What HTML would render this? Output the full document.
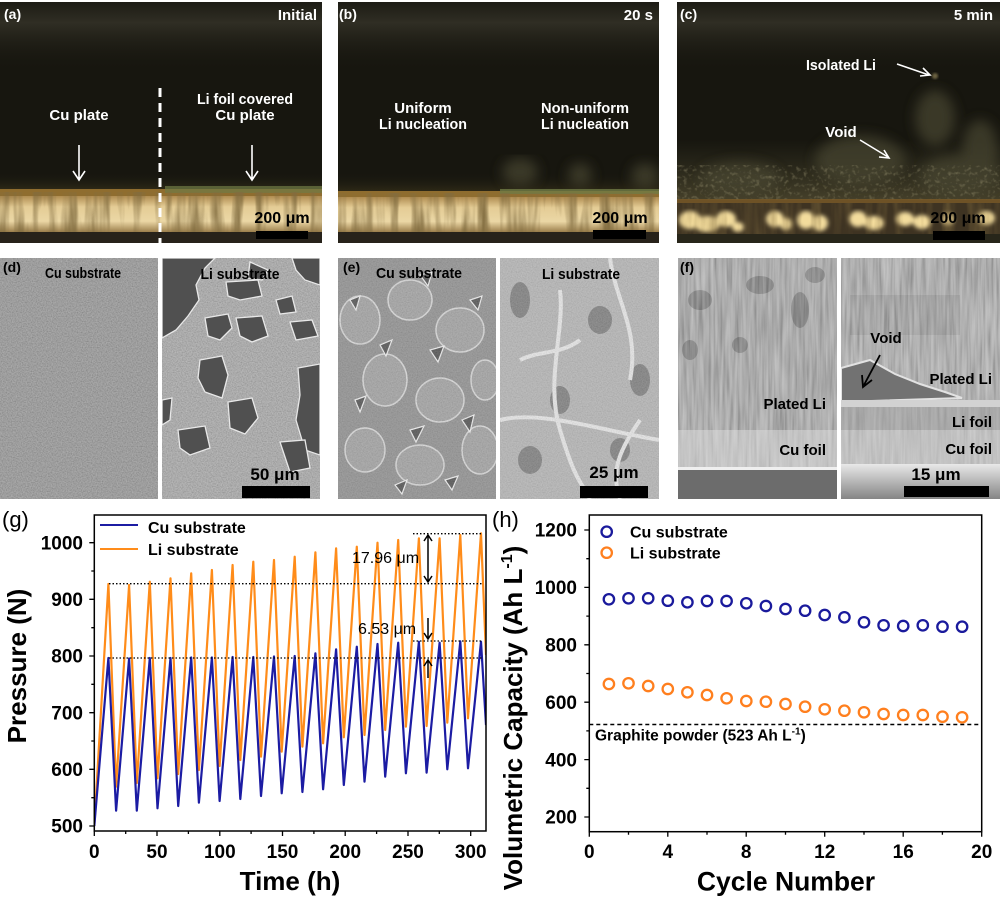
<!DOCTYPE html>
<html>
<head>
<meta charset="utf-8">
<style>
html,body{margin:0;padding:0;background:#fff;}
svg{display:block;}
text{font-family:"Liberation Sans",Arial,sans-serif;}
</style>
</head>
<body>
<svg width="1000" height="900" viewBox="0 0 1000 900" xmlns="http://www.w3.org/2000/svg">
<defs>
  <filter id="vstreak" x="0" y="0" width="1" height="1" filterUnits="objectBoundingBox">
    <feTurbulence type="fractalNoise" baseFrequency="0.09 0.01" numOctaves="3" seed="3"/>
    <feColorMatrix type="matrix" values="0 0 0 0 0.22  0 0 0 0 0.15  0 0 0 0 0.05  2.4 0 0 0 -1.0"/>
  </filter>
  <filter id="speck" x="0" y="0" width="1" height="1" filterUnits="objectBoundingBox">
    <feTurbulence type="fractalNoise" baseFrequency="0.25" numOctaves="2" seed="5"/>
    <feColorMatrix type="matrix" values="0 0 0 0 0.42  0 0 0 0 0.38  0 0 0 0 0.22  3 0 0 0 -1.55"/>
  </filter>
  <filter id="grain" x="0" y="0" width="1" height="1" filterUnits="objectBoundingBox">
    <feTurbulence type="fractalNoise" baseFrequency="0.8" numOctaves="1" seed="7"/>
    <feColorMatrix type="matrix" values="1 0 0 0 0  1 0 0 0 0  1 0 0 0 0  0 0 0 0 0.35"/>
  </filter>
  <filter id="vgrain" x="0" y="0" width="1" height="1" filterUnits="objectBoundingBox">
    <feTurbulence type="fractalNoise" baseFrequency="0.35 0.02" numOctaves="2" seed="11"/>
    <feColorMatrix type="matrix" values="1 0 0 0 0  1 0 0 0 0  1 0 0 0 0  0 0 0 0 0.4"/>
  </filter>
  <filter id="blur2"><feGaussianBlur stdDeviation="2"/></filter>
  <filter id="blur3"><feGaussianBlur stdDeviation="3"/></filter>
  <filter id="blur6"><feGaussianBlur stdDeviation="6"/></filter>
  <filter id="blur1"><feGaussianBlur stdDeviation="1"/></filter>
  <linearGradient id="topHaze" x1="0" y1="0" x2="0" y2="1">
    <stop offset="0" stop-color="#1d1c15"/>
    <stop offset="0.3" stop-color="#302e24"/>
    <stop offset="1" stop-color="#17160f" stop-opacity="0"/>
  </linearGradient>
  <linearGradient id="glow" x1="0" y1="0" x2="0" y2="1">
    <stop offset="0" stop-color="#17160f" stop-opacity="0"/>
    <stop offset="1" stop-color="#2f2a17"/>
  </linearGradient>
  <linearGradient id="strip" x1="0" y1="0" x2="0" y2="1">
    <stop offset="0" stop-color="#b08d52"/>
    <stop offset="0.3" stop-color="#e4cc95"/>
    <stop offset="0.7" stop-color="#ebd7a5"/>
    <stop offset="1" stop-color="#9c7f4c"/>
  </linearGradient>
  <linearGradient id="moss" x1="0" y1="0" x2="0" y2="1">
    <stop offset="0" stop-color="#3a3826" stop-opacity="0"/>
    <stop offset="1" stop-color="#45402a"/>
  </linearGradient>
  <linearGradient id="fbot" x1="0" y1="0" x2="0" y2="1">
    <stop offset="0" stop-color="#e8e8e8"/>
    <stop offset="1" stop-color="#858585"/>
  </linearGradient>
  <clipPath id="cA"><rect x="0" y="2" width="322" height="241"/></clipPath>
  <clipPath id="cB"><rect x="338" y="2" width="321" height="241"/></clipPath>
  <clipPath id="cC"><rect x="677" y="2" width="323" height="241"/></clipPath>
  <clipPath id="cDR"><rect x="162" y="258" width="158" height="241"/></clipPath>
  <clipPath id="cEL"><rect x="338" y="258" width="158" height="241"/></clipPath>
  <clipPath id="cER"><rect x="500" y="258" width="159" height="241"/></clipPath>
  <clipPath id="cFL"><rect x="678" y="258" width="159" height="241"/></clipPath>
  <clipPath id="cFR"><rect x="841" y="258" width="159" height="241"/></clipPath>
  <clipPath id="cG"><rect x="94.3" y="515" width="391.7" height="316"/></clipPath>
</defs>

<rect width="1000" height="900" fill="#fff"/>

<!-- ============ (a) ============ -->
<g clip-path="url(#cA)">
  <rect x="0" y="2" width="322" height="241" fill="#17160f"/>
  <rect x="0" y="2" width="322" height="70" fill="url(#topHaze)"/>
  <rect x="0" y="172" width="322" height="18" fill="url(#glow)"/>
  <rect x="0" y="189" width="322" height="7" fill="#8f6d2f"/>
  <rect x="165" y="186" width="157" height="7" fill="#6f7a45" opacity="0.7"/>
  <rect x="0" y="196" width="322" height="36" fill="url(#strip)"/>
  <rect x="0" y="192" width="322" height="41" filter="url(#vstreak)"/>
  <rect x="0" y="232" width="322" height="11" fill="#27221a"/>
</g>
<line x1="160" y1="88" x2="160" y2="243" stroke="#fff" stroke-width="3" stroke-dasharray="9,6"/>
<g font-weight="bold" fill="#fff" font-size="15">
  <text x="4" y="19" font-size="14">(a)</text>
  <text x="317" y="20" text-anchor="end">Initial</text>
  <text x="79" y="120" text-anchor="middle">Cu plate</text>
  <text x="245" y="104" text-anchor="middle" textLength="96" lengthAdjust="spacingAndGlyphs">Li foil covered</text>
  <text x="245" y="120" text-anchor="middle">Cu plate</text>
</g>
<g stroke="#fff" stroke-width="1.6" fill="none">
  <path d="M79 145 V179 M73 171 L79 180 L85 171"/>
  <path d="M252 145 V179 M246 171 L252 180 L258 171"/>
</g>
<rect x="256" y="231" width="52" height="8" fill="#000"/>
<text x="282" y="223" text-anchor="middle" font-weight="bold" font-size="16" fill="#000">200 μm</text>

<!-- ============ (b) ============ -->
<g clip-path="url(#cB)">
  <rect x="338" y="2" width="321" height="241" fill="#17160f"/>
  <rect x="338" y="2" width="321" height="70" fill="url(#topHaze)"/>
  <rect x="338" y="172" width="321" height="20" fill="url(#glow)"/>
  <g filter="url(#blur6)" fill="#4a4630" opacity="0.7">
    <ellipse cx="520" cy="172" rx="18" ry="14"/>
    <ellipse cx="580" cy="175" rx="12" ry="12"/>
    <ellipse cx="645" cy="176" rx="14" ry="13"/>
  </g>
  <rect x="338" y="191" width="321" height="6" fill="#8f6d2f"/>
  <rect x="500" y="189" width="159" height="5" fill="#6f7a45" opacity="0.8"/>
  <rect x="338" y="197" width="321" height="35" fill="url(#strip)"/>
  <rect x="338" y="193" width="321" height="40" filter="url(#vstreak)"/>
  <rect x="338" y="232" width="321" height="11" fill="#27221a"/>
</g>
<g font-weight="bold" fill="#fff" font-size="15">
  <text x="339" y="19" font-size="14">(b)</text>
  <text x="653" y="20" text-anchor="end">20 s</text>
  <text x="423" y="113" text-anchor="middle">Uniform</text>
  <text x="423" y="129" text-anchor="middle" textLength="88" lengthAdjust="spacingAndGlyphs">Li nucleation</text>
  <text x="585" y="113" text-anchor="middle" textLength="88" lengthAdjust="spacingAndGlyphs">Non-uniform</text>
  <text x="585" y="129" text-anchor="middle" textLength="88" lengthAdjust="spacingAndGlyphs">Li nucleation</text>
</g>
<rect x="593" y="230" width="53" height="9" fill="#000"/>
<text x="620" y="223" text-anchor="middle" font-weight="bold" font-size="16" fill="#000">200 μm</text>

<!-- ============ (c) ============ -->
<g clip-path="url(#cC)">
  <rect x="677" y="2" width="323" height="241" fill="#17160f"/>
  <rect x="677" y="2" width="323" height="70" fill="url(#topHaze)"/>
  <rect x="677" y="140" width="323" height="60" fill="url(#moss)"/>
  <g filter="url(#blur6)" fill="#4a4630" opacity="0.7">
    <ellipse cx="935" cy="118" rx="20" ry="28"/>
    <ellipse cx="980" cy="150" rx="18" ry="30"/>
    <ellipse cx="740" cy="178" rx="40" ry="16"/>
    <ellipse cx="860" cy="160" rx="45" ry="25"/>
    <ellipse cx="960" cy="175" rx="40" ry="20"/>
  </g>
  <rect x="677" y="165" width="323" height="36" filter="url(#speck)" opacity="0.35"/>
  <circle cx="935" cy="76" r="3" fill="#6a6040" filter="url(#blur1)"/>
  <rect x="677" y="200" width="323" height="43" fill="#3e3322"/>
  <rect x="677" y="199" width="323" height="4" fill="#7a5a28" opacity="0.8"/>
  <g filter="url(#blur2)" fill="#f3dc9c">
    <ellipse cx="690" cy="220" rx="11" ry="9"/>
    <ellipse cx="707" cy="224" rx="13" ry="8"/>
    <ellipse cx="726" cy="219" rx="10" ry="8"/>
    <ellipse cx="738" cy="227" rx="6" ry="5"/>
    <ellipse cx="775" cy="219" rx="9" ry="8"/>
    <ellipse cx="786" cy="224" rx="6" ry="6"/>
    <ellipse cx="806" cy="220" rx="9" ry="9"/>
    <ellipse cx="820" cy="223" rx="8" ry="8"/>
    <ellipse cx="858" cy="219" rx="9" ry="8"/>
    <ellipse cx="874" cy="223" rx="10" ry="7"/>
    <ellipse cx="905" cy="219" rx="9" ry="7"/>
    <ellipse cx="922" cy="222" rx="9" ry="7"/>
    <ellipse cx="948" cy="219" rx="6" ry="6"/>
    <ellipse cx="986" cy="218" rx="9" ry="7"/>
  </g>
  <rect x="677" y="203" width="323" height="32" filter="url(#vstreak)" opacity="0.5"/>
  <rect x="677" y="234" width="323" height="9" fill="#28261a"/>
</g>
<g font-weight="bold" fill="#fff" font-size="15">
  <text x="680" y="19" font-size="14">(c)</text>
  <text x="993" y="20" text-anchor="end">5 min</text>
  <text x="841" y="70" text-anchor="middle" textLength="70" lengthAdjust="spacingAndGlyphs">Isolated Li</text>
  <text x="841" y="137" text-anchor="middle">Void</text>
</g>
<g stroke="#fff" stroke-width="1.6" fill="none">
  <path d="M897 64 L929 75 M920 76 L930 75 L923 68"/>
  <path d="M860 140 L888 157 M879 157 L889 158 L884 150"/>
</g>
<rect x="933" y="231" width="52" height="9" fill="#000"/>
<text x="958" y="223" text-anchor="middle" font-weight="bold" font-size="16" fill="#000">200 μm</text>

<!-- ============ (d) ============ -->
<rect x="0" y="258" width="158" height="241" fill="#8d8d8d"/>
<rect x="0" y="258" width="158" height="241" filter="url(#grain)"/>
<g clip-path="url(#cDR)">
  <rect x="162" y="258" width="158" height="241" fill="#a2a2a2"/>
  <rect x="162" y="258" width="158" height="241" filter="url(#grain)"/>
  <g fill="#505050" stroke="#e8e8e8" stroke-width="1.3">
    <polygon points="162,258 215,258 205,268 196,285 199,300 188,316 176,330 162,338"/>
    <polygon points="292,258 320,258 320,285 305,280 296,270"/>
    <polygon points="226,282 258,280 262,296 240,300 228,296"/>
    <polygon points="205,318 228,314 232,328 220,340 208,336"/>
    <polygon points="236,318 262,316 268,336 252,342 240,336"/>
    <polygon points="290,322 312,320 318,336 296,340"/>
    <polygon points="200,360 222,356 228,375 222,398 205,392 198,378"/>
    <polygon points="298,368 320,364 320,455 305,450 296,420 300,395"/>
    <polygon points="228,402 252,398 258,418 245,434 230,428"/>
    <polygon points="178,430 205,426 210,448 190,455 180,448"/>
    <polygon points="280,442 305,440 310,468 290,472"/>
    <polygon points="162,400 172,398 170,420 162,425"/>
    <polygon points="250,262 268,270 262,280 248,278"/>
    <polygon points="276,300 292,296 296,312 280,314"/>
  </g>
</g>
<g font-weight="bold" fill="#000" font-size="15">
  <text x="3" y="272" font-size="14">(d)</text>
  <text x="83" y="278" text-anchor="middle" textLength="76" lengthAdjust="spacingAndGlyphs">Cu substrate</text>
  <text x="240" y="279" text-anchor="middle" textLength="79" lengthAdjust="spacingAndGlyphs">Li substrate</text>
  <text x="275" y="480" text-anchor="middle" font-size="17">50 μm</text>
</g>
<rect x="242" y="486" width="68" height="12" fill="#000"/>

<!-- ============ (e) ============ -->
<g clip-path="url(#cEL)">
  <rect x="338" y="258" width="158" height="241" fill="#8e8e8e"/>
  <g fill="#a0a0a0" stroke="#d6d6d6" stroke-width="1.5">
    <ellipse cx="360" cy="320" rx="20" ry="24"/>
    <ellipse cx="410" cy="300" rx="22" ry="20"/>
    <ellipse cx="460" cy="330" rx="24" ry="22"/>
    <ellipse cx="385" cy="380" rx="22" ry="26"/>
    <ellipse cx="440" cy="400" rx="24" ry="22"/>
    <ellipse cx="365" cy="450" rx="20" ry="22"/>
    <ellipse cx="420" cy="465" rx="24" ry="20"/>
    <ellipse cx="480" cy="450" rx="18" ry="24"/>
    <ellipse cx="485" cy="380" rx="14" ry="20"/>
  </g>
  <g fill="#4e4e4e" stroke="#f0f0f0" stroke-width="1.2">
    <polygon points="380,345 392,340 386,356"/>
    <polygon points="430,350 444,346 438,362"/>
    <polygon points="470,300 482,296 478,310"/>
    <polygon points="355,400 366,396 360,412"/>
    <polygon points="410,430 424,426 416,442"/>
    <polygon points="462,420 474,415 470,432"/>
    <polygon points="395,485 407,480 402,494"/>
    <polygon points="445,480 458,476 452,490"/>
    <polygon points="350,300 360,296 356,310"/>
    <polygon points="420,275 432,272 428,286"/>
  </g>
  <rect x="338" y="258" width="158" height="241" filter="url(#grain)" opacity="0.6"/>
</g>
<g clip-path="url(#cER)">
  <rect x="500" y="258" width="159" height="241" fill="#b3b3b3"/>
  <g fill="#7c7c7c">
    <ellipse cx="520" cy="300" rx="10" ry="18"/>
    <ellipse cx="600" cy="320" rx="12" ry="14"/>
    <ellipse cx="640" cy="380" rx="10" ry="16"/>
    <ellipse cx="560" cy="400" rx="10" ry="14"/>
    <ellipse cx="530" cy="460" rx="12" ry="14"/>
    <ellipse cx="620" cy="450" rx="10" ry="12"/>
  </g>
  <g fill="none" stroke="#e6e6e6" stroke-width="4">
    <path d="M560 290 C 565 330, 545 380, 560 430 S 580 480, 590 499"/>
    <path d="M500 420 C 540 410, 600 430, 659 440"/>
    <path d="M610 258 C 615 300, 640 330, 630 380"/>
    <path d="M520 360 C 540 350, 560 355, 580 340"/>
    <path d="M640 420 C 620 450, 610 470, 620 499"/>
  </g>
  <rect x="500" y="258" width="159" height="241" filter="url(#grain)" opacity="0.6"/>
</g>
<g font-weight="bold" fill="#000" font-size="15">
  <text x="343" y="272" font-size="14">(e)</text>
  <text x="419" y="278" text-anchor="middle" textLength="86" lengthAdjust="spacingAndGlyphs">Cu substrate</text>
  <text x="581" y="279" text-anchor="middle" textLength="78" lengthAdjust="spacingAndGlyphs">Li substrate</text>
  <text x="614" y="478" text-anchor="middle" font-size="17">25 μm</text>
</g>
<rect x="580" y="486" width="68" height="12" fill="#000"/>

<!-- ============ (f) ============ -->
<g clip-path="url(#cFL)">
  <rect x="678" y="258" width="159" height="172" fill="#a3a3a3"/>
  <g fill="#6e6e6e">
    <ellipse cx="700" cy="300" rx="12" ry="10"/>
    <ellipse cx="760" cy="285" rx="14" ry="9"/>
    <ellipse cx="800" cy="310" rx="9" ry="18"/>
    <ellipse cx="690" cy="350" rx="8" ry="10"/>
    <ellipse cx="740" cy="345" rx="8" ry="8"/>
    <ellipse cx="815" cy="275" rx="10" ry="8"/>
  </g>
  <rect x="678" y="258" width="159" height="172" filter="url(#vgrain)"/>
  <rect x="678" y="430" width="159" height="38" fill="#c8c8c8"/>
  <rect x="678" y="430" width="159" height="38" filter="url(#vgrain)" opacity="0.5"/>
  <rect x="678" y="467" width="159" height="3" fill="#efefef"/>
  <rect x="678" y="470" width="159" height="29" fill="#6c6c6c"/>
</g>
<g clip-path="url(#cFR)">
  <rect x="841" y="258" width="159" height="145" fill="#a9a9a9"/>
  <rect x="850" y="295" width="110" height="40" fill="#888" opacity="0.6"/>
  <rect x="841" y="258" width="159" height="145" filter="url(#vgrain)"/>
  <polygon points="841,368 870,360 895,374 920,384 945,392 962,398 841,402" fill="#727272" stroke="#e2e2e2" stroke-width="2"/>
  <rect x="841" y="400" width="159" height="7" fill="#d2d2d2"/>
  <rect x="841" y="407" width="159" height="23" fill="#a6a6a6"/>
  <rect x="841" y="430" width="159" height="34" fill="#c3c3c3"/>
  <rect x="841" y="407" width="159" height="57" filter="url(#vgrain)" opacity="0.5"/>
  <rect x="841" y="464" width="159" height="35" fill="url(#fbot)"/>
</g>
<g font-weight="bold" fill="#000" font-size="15">
  <text x="680" y="272" font-size="14">(f)</text>
  <text x="826" y="409" text-anchor="end">Plated Li</text>
  <text x="826" y="455" text-anchor="end">Cu foil</text>
  <text x="886" y="343" text-anchor="middle">Void</text>
  <text x="992" y="384" text-anchor="end">Plated Li</text>
  <text x="992" y="427" text-anchor="end">Li foil</text>
  <text x="992" y="454" text-anchor="end">Cu foil</text>
  <text x="936" y="480" text-anchor="middle" font-size="17">15 μm</text>
</g>
<path d="M880 355 L864 385 M862 375 L863 387 L872 380" stroke="#000" stroke-width="1.8" fill="none"/>
<rect x="904" y="486" width="85" height="11" fill="#000"/>

<!-- ============ (g) chart ============ -->
<text x="2" y="527" font-size="22">(g)</text>
<g clip-path="url(#cG)" fill="none" stroke-width="2.2" stroke-linejoin="round">
  <polyline stroke="#ff8c1a" points="94.3,826 108.4,584 116.1,786.7 129.1,585 136.8,783 149.8,581.7 157.5,778.3 170.5,578.3 178.2,774 191.2,573.3 198.9,770 211.9,570 219.6,766 232.6,565 240.3,760 253.3,561.7 261.0,756.7 274.0,560 281.7,751.7 294.7,556.7 302.4,746.7 315.4,552.3 323.1,743.3 336.1,548.3 343.8,737.3 356.8,546.7 364.5,735 377.5,542.7 385.2,730 398.2,540 405.9,726.7 418.9,538.3 426.6,726 439.6,538.3 447.3,722.7 460.3,535 468.0,718.3 481.0,533.3 486,655"/>
  <polyline stroke="#1c1ca3" points="94.3,826 108.4,658 116.1,810.7 129.1,658.5 136.8,810.7 149.8,658 157.5,808.3 170.5,658 178.2,806 191.2,657.5 198.9,802.7 211.9,657.5 219.6,801 232.6,657 240.3,799 253.3,657 261.0,796 274.0,656.5 281.7,793.3 294.7,656 302.4,792 315.4,653.3 323.1,789.3 336.1,649.3 343.8,785 356.8,646.7 364.5,781.7 377.5,644 385.2,776.7 398.2,642.7 405.9,773.3 418.9,641.7 426.6,772.7 439.6,642.7 447.3,769.3 460.3,641.3 468.0,768.3 481.0,641.7 486,725"/>
</g>
<g stroke="#000" stroke-width="1.3" stroke-dasharray="1.5,2" fill="none">
  <line x1="109" y1="583.7" x2="483" y2="583.7"/>
  <line x1="109" y1="658" x2="483" y2="658"/>
  <line x1="413" y1="533.7" x2="483" y2="533.7"/>
  <line x1="413" y1="641" x2="483" y2="641"/>
</g>
<g stroke="#000" stroke-width="1.5" fill="none">
  <path d="M428 536 V581 M424 541 L428 535 L432 541 M424 576 L428 582 L432 576"/>
  <path d="M428 618 V638 M424 633 L428 639 L432 633"/>
  <path d="M428 678 V661 M424 666 L428 660 L432 666"/>
</g>
<text x="352" y="563" font-size="16">17.96 μm</text>
<text x="358" y="634" font-size="16">6.53 μm</text>
<!-- legend g -->
<line x1="100" y1="525" x2="138" y2="525" stroke="#1c1ca3" stroke-width="2"/>
<line x1="100" y1="549" x2="138" y2="549" stroke="#ff8c1a" stroke-width="2"/>
<text x="148" y="533" font-size="16" font-weight="bold">Cu substrate</text>
<text x="148" y="555" font-size="16" font-weight="bold">Li substrate</text>
<!-- frame & ticks g -->
<rect x="94.3" y="515" width="391.7" height="316" fill="none" stroke="#000" stroke-width="1.5"/>
<path stroke="#000" stroke-width="1.3" fill="none" d="M94.3 831 v5 M157.0 831 v5 M219.8 831 v5 M282.5 831 v5 M345.2 831 v5 M408.0 831 v5 M470.7 831 v5 M125.7 831 v3 M188.4 831 v3 M251.1 831 v3 M313.9 831 v3 M376.6 831 v3 M439.3 831 v3 M94.3 826 h-5 M94.3 769.3 h-5 M94.3 712.7 h-5 M94.3 656 h-5 M94.3 599.3 h-5 M94.3 542.7 h-5 M94.3 797.7 h-3 M94.3 741 h-3 M94.3 684.3 h-3 M94.3 627.7 h-3 M94.3 571 h-3"/>
<g font-size="19" font-weight="bold" text-anchor="end">
  <text x="83" y="549.4">1000</text>
  <text x="83" y="606">900</text>
  <text x="83" y="662.7">800</text>
  <text x="83" y="719.4">700</text>
  <text x="83" y="776">600</text>
  <text x="83" y="832.7">500</text>
</g>
<g font-size="19" font-weight="bold" text-anchor="middle">
  <text x="94.3" y="858">0</text>
  <text x="157" y="858">50</text>
  <text x="219.8" y="858">100</text>
  <text x="282.5" y="858">150</text>
  <text x="345.2" y="858">200</text>
  <text x="408" y="858">250</text>
  <text x="470.7" y="858">300</text>
</g>
<text x="290" y="890" font-size="26" font-weight="bold" text-anchor="middle">Time (h)</text>
<text transform="translate(26,666) rotate(-90)" font-size="26" font-weight="bold" text-anchor="middle">Pressure (N)</text>

<!-- ============ (h) chart ============ -->
<text x="492" y="527" font-size="22">(h)</text>
<line x1="589.3" y1="724.5" x2="981.7" y2="724.5" stroke="#000" stroke-width="1.5" stroke-dasharray="4,3"/>
<text x="595" y="740.7" font-size="15.5" font-weight="bold">Graphite powder (523 Ah L<tspan dy="-6" font-size="10">-1</tspan><tspan dy="6">)</tspan></text>
<g fill="none" stroke="#1a1a9c" stroke-width="2.3">
  <circle cx="608.9" cy="599.3" r="5.2"/><circle cx="628.5" cy="598.3" r="5.2"/><circle cx="648.2" cy="598.3" r="5.2"/><circle cx="667.8" cy="600.7" r="5.2"/><circle cx="687.4" cy="602.3" r="5.2"/><circle cx="707.0" cy="601" r="5.2"/><circle cx="726.6" cy="601" r="5.2"/><circle cx="746.3" cy="603.3" r="5.2"/><circle cx="765.9" cy="606" r="5.2"/><circle cx="785.5" cy="609" r="5.2"/><circle cx="805.1" cy="610.7" r="5.2"/><circle cx="824.7" cy="615" r="5.2"/><circle cx="844.4" cy="617.3" r="5.2"/><circle cx="864.0" cy="622.3" r="5.2"/><circle cx="883.6" cy="625.3" r="5.2"/><circle cx="903.2" cy="626" r="5.2"/><circle cx="922.8" cy="625.3" r="5.2"/><circle cx="942.5" cy="626.7" r="5.2"/><circle cx="962.1" cy="626.7" r="5.2"/>
  <circle cx="606.7" cy="531.7" r="5.2"/>
</g>
<g fill="none" stroke="#ff7f1e" stroke-width="2.3">
  <circle cx="608.9" cy="684" r="5.2"/><circle cx="628.5" cy="683.3" r="5.2"/><circle cx="648.2" cy="686" r="5.2"/><circle cx="667.8" cy="689" r="5.2"/><circle cx="687.4" cy="692.3" r="5.2"/><circle cx="707.0" cy="695" r="5.2"/><circle cx="726.6" cy="698.3" r="5.2"/><circle cx="746.3" cy="701" r="5.2"/><circle cx="765.9" cy="701.7" r="5.2"/><circle cx="785.5" cy="704" r="5.2"/><circle cx="805.1" cy="706.7" r="5.2"/><circle cx="824.7" cy="709.3" r="5.2"/><circle cx="844.4" cy="710.7" r="5.2"/><circle cx="864.0" cy="712.3" r="5.2"/><circle cx="883.6" cy="714" r="5.2"/><circle cx="903.2" cy="715" r="5.2"/><circle cx="922.8" cy="715" r="5.2"/><circle cx="942.5" cy="716.7" r="5.2"/><circle cx="962.1" cy="717.3" r="5.2"/>
  <circle cx="606.7" cy="552.7" r="5.2"/>
</g>
<text x="630" y="537.3" font-size="16" font-weight="bold">Cu substrate</text>
<text x="630" y="558.3" font-size="16" font-weight="bold">Li substrate</text>
<rect x="589.3" y="515" width="392.4" height="316.7" fill="none" stroke="#000" stroke-width="1.5"/>
<path stroke="#000" stroke-width="1.3" fill="none" d="M589.3 831.7 v5 M667.8 831.7 v5 M746.2 831.7 v5 M824.7 831.7 v5 M903.2 831.7 v5 M981.7 831.7 v5 M628.5 831.7 v3 M707.0 831.7 v3 M785.5 831.7 v3 M864.0 831.7 v3 M942.4 831.7 v3 M589.3 817.0 h-5 M589.3 759.6 h-5 M589.3 702.2 h-5 M589.3 644.8 h-5 M589.3 587.4 h-5 M589.3 530.0 h-5 M589.3 788.3 h-3 M589.3 730.9 h-3 M589.3 673.5 h-3 M589.3 616.1 h-3 M589.3 558.7 h-3"/>
<g font-size="19" font-weight="bold" text-anchor="end">
  <text x="577" y="536.7">1200</text>
  <text x="577" y="594.1">1000</text>
  <text x="577" y="651.5">800</text>
  <text x="577" y="708.9">600</text>
  <text x="577" y="766.3">400</text>
  <text x="577" y="823.7">200</text>
</g>
<g font-size="19" font-weight="bold" text-anchor="middle">
  <text x="589.3" y="858">0</text>
  <text x="667.8" y="858">4</text>
  <text x="746.2" y="858">8</text>
  <text x="824.7" y="858">12</text>
  <text x="903.2" y="858">16</text>
  <text x="981.7" y="858">20</text>
</g>
<text x="786" y="890.7" font-size="26.5" font-weight="bold" text-anchor="middle">Cycle Number</text>
<text transform="translate(522,718) rotate(-90)" font-size="26" font-weight="bold" text-anchor="middle">Volumetric Capacity (Ah L<tspan dy="-10" font-size="16">-1</tspan><tspan dy="10">)</tspan></text>
</svg>
</body>
</html>
